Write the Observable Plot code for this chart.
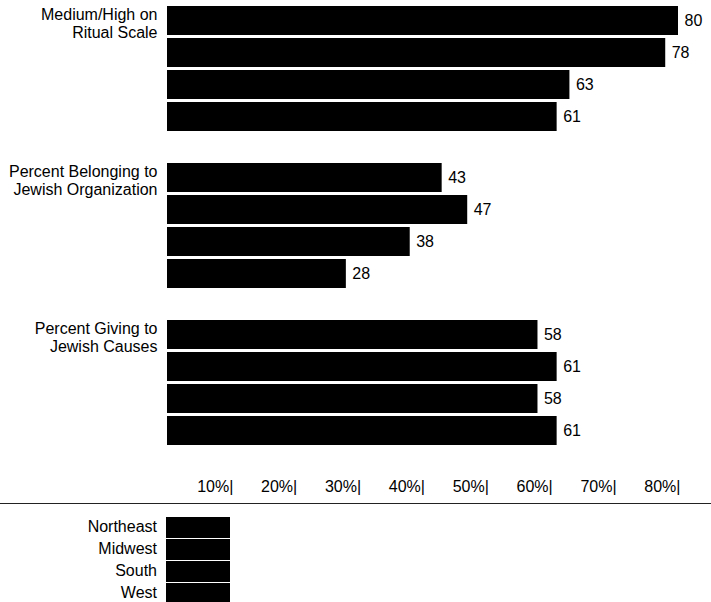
<!DOCTYPE html>
<html>
<head>
<meta charset="utf-8">
<script src="https://cdn.jsdelivr.net/npm/d3@7"></script>
<script src="https://cdn.jsdelivr.net/npm/@observablehq/plot@0.6"></script>
<style>
  body { margin: 0; background: #fff; font-family: "Liberation Sans", Arial, sans-serif; }
  #chart svg { display: block; }
  #legend { border-top: 1.5px solid #222; width: 711px; padding-top: 12px; }
  .row { display: flex; align-items: center; height: 22px; }
  .lab { width: 157px; text-align: right; font-size: 16px; color: #000; }
  .sw { width: 64px; height: 21px; background: #000; margin-left: 9px; }
</style>
</head>
<body>
<div id="chart"></div>
<div id="legend"></div>
<script>
const regions = ["Northeast", "Midwest", "South", "West"];
const measures = [
  "Medium/High on\nRitual Scale",
  "Percent Belonging to\nJewish Organization",
  "Percent Giving to\nJewish Causes"
];
const ritualScale = [80, 78, 63, 61];
const belonging = [43, 47, 38, 28];
const giving = [58, 61, 58, 61];
const tickValues = [10, 20, 30, 40, 50, 60, 70, 80];

const series = [ritualScale, belonging, giving];
const data = measures.flatMap((m, i) =>
  regions.map((r, j) => ({ measure: m, region: r, value: series[i][j] }))
);

const chart = Plot.plot({
  width: 711,
  height: 503,
  marginLeft: 167,
  marginRight: 33,
  marginTop: 5,
  marginBottom: 58,
  style: { fontFamily: "Liberation Sans, Arial, sans-serif", fontSize: "16px", color: "#000", background: "#fff" },
  x: { domain: [0, 80], axis: null, label: null },
  y: { domain: regions, paddingInner: 0.1, paddingOuter: 0, axis: null },
  fy: { domain: measures, paddingInner: 0.2, paddingOuter: 0, axis: null },
  marks: [
    Plot.barX(data, { x: "value", y: "region", fy: "measure", fill: "#000" }),
    Plot.text(data, { x: "value", y: "region", fy: "measure", text: d => String(d.value), textAnchor: "start", dx: 6, fontSize: 16, fill: "#000" }),
    Plot.text(measures.map(m => ({ measure: m })), {
      fy: "measure", x: () => 0, y: () => "Northeast", text: "measure",
      textAnchor: "end", lineAnchor: "top", dx: -10, dy: -14, lineHeight: 1.15, fontSize: 16, fill: "#000"
    }),
    Plot.axisX({ ticks: tickValues, tickFormat: d => `${d}%|`, tickSize: 0, tickPadding: 35, textAnchor: "end", dx: 2, fontSize: 16, fill: "#000", label: null })
  ]
});
document.getElementById("chart").appendChild(chart);

const legend = document.getElementById("legend");
for (const r of regions) {
  const row = document.createElement("div");
  row.className = "row";
  const lab = document.createElement("div");
  lab.className = "lab";
  lab.textContent = r;
  const sw = document.createElement("div");
  sw.className = "sw";
  row.appendChild(lab);
  row.appendChild(sw);
  legend.appendChild(row);
}
</script>
</body>
</html>
